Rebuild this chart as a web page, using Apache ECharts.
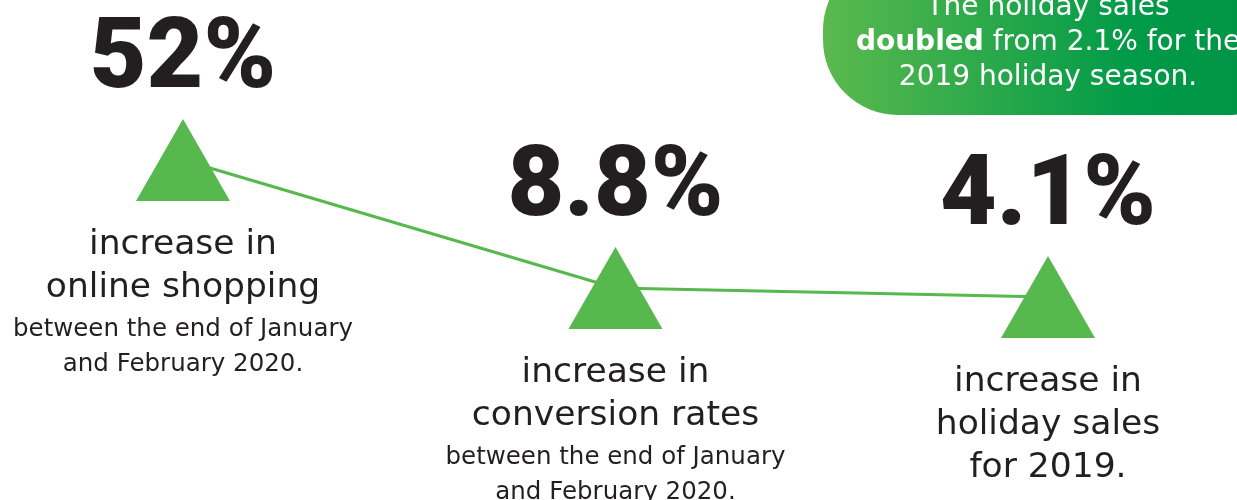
<!DOCTYPE html>
<html>
<head>
<meta charset="utf-8">
<style>html,body{margin:0;padding:0;background:#fff;}#c{width:1237px;height:500px;}</style>
<script src="https://cdn.jsdelivr.net/npm/echarts@6/dist/echarts.min.js"></script>
</head>
<body>
<div id="c"></div>
<script>
// ---- data ----
const categories = ['online shopping', 'conversion rates', 'holiday sales'];
const bigValues = ['52%', '8.8%', '4.1%'];
// visual height of each marker on the connecting line (0-100 scale)
const levels = [68, 42.4, 40.6];
const headLines = [
  ['increase in', 'online shopping'],
  ['increase in', 'conversion rates'],
  ['increase in', 'holiday sales', 'for 2019.']
];
const subLines = [
  ['between the end of January', 'and February 2020.'],
  ['between the end of January', 'and February 2020.'],
  []
];
const calloutLines = [
  [['n', 'The holiday sales']],
  [['b', 'doubled'], ['n', ' from 2.1% for the']],
  [['n', '2019 holiday season.']]
];

const INK = '#231f20';
const GREEN = '#57b84d';
const FONT = 'DejaVu Sans';
const BIG_FONT = 'Roboto';
const chart = echarts.init(document.getElementById('c'));

function bottomText(i) {
  const a = headLines[i].map(t => '{a|' + t + '}');
  const b = subLines[i].map((t, k) => '{' + (k === 0 ? 'c' : 'b') + '|' + t + '}');
  return a.concat(b).join('\n');
}

function buildOption() {
  return {
    animation: false,
    grid: { left: 183, right: 189, top: 0, bottom: 0 },
    xAxis: { type: 'category', data: categories, boundaryGap: false, show: false },
    yAxis: { type: 'value', min: 0, max: 100, show: false },
    graphic: [
      {
        type: 'rect', silent: true, z: 1,
        shape: { x: 823, y: -45, width: 480, height: 160, r: 75 },
        style: {
          fill: new echarts.graphic.LinearGradient(0, 0, 1, 0, [
            { offset: 0, color: '#5bb94e' },
            { offset: 0.65, color: '#009a48' },
            { offset: 1, color: '#009245' }
          ])
        }
      },
      {
        type: 'text', silent: true, z: 2,
        x: 1048, y: -10,
        style: {
          text: calloutLines.map(l => l.map(p => '{' + p[0] + '|' + p[1] + '}').join('')).join('\n'),
          align: 'center', verticalAlign: 'top',
          fill: '#ffffff',
          fontFamily: FONT, fontSize: 28,
          rich: {
            n: { fontFamily: FONT, fontSize: 28, color: '#ffffff', fill: '#ffffff', lineHeight: 35 },
            b: { fontFamily: FONT, fontSize: 28, fontWeight: 'bold', color: '#ffffff', fill: '#ffffff', lineHeight: 35 }
          }
        }
      }
    ],
    series: [
      {
        type: 'line',
        data: levels,
        symbol: 'triangle',
        symbolSize: [94, 82],
        itemStyle: { color: GREEN },
        lineStyle: { color: GREEN, width: 3 },
        z: 3,
        label: {
          show: true,
          position: 'bottom',
          distance: 23,
          formatter: p => bottomText(p.dataIndex),
          rich: {
            a: { fontFamily: FONT, fontSize: 34.5, color: INK, lineHeight: 43, align: 'center' },
            c: { fontFamily: FONT, fontSize: 24.5, color: INK, lineHeight: 40, align: 'center' },
            b: { fontFamily: FONT, fontSize: 24.5, color: INK, lineHeight: 30, align: 'center' }
          }
        }
      },
      {
        type: 'line',
        data: levels,
        symbol: 'triangle',
        symbolSize: [94, 82],
        itemStyle: { color: 'rgba(0,0,0,0)' },
        lineStyle: { width: 0, opacity: 0 },
        z: 4,
        label: {
          show: true,
          position: 'top',
          distance: 8,
          formatter: p => bigValues[p.dataIndex],
          fontFamily: BIG_FONT,
          fontWeight: 900,
          fontSize: 98,
          lineHeight: 98,
          color: INK
        }
      }
    ]
  };
}

chart.setOption(buildOption());
if (document.fonts && document.fonts.load) {
  Promise.all([
    document.fonts.load('900 98px Roboto', '52%8.8'),
    document.fonts.load('34px "DejaVu Sans"', 'increase'),
    document.fonts.load('bold 28px "DejaVu Sans"', 'doubled')
  ]).then(() => { chart.setOption(buildOption(), true); }).catch(() => {});
}
</script>
</body>
</html>
